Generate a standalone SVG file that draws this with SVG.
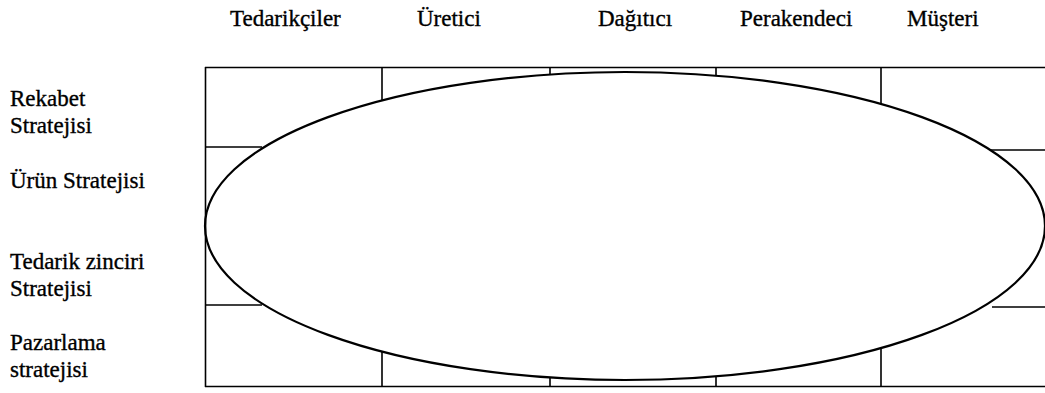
<svg xmlns="http://www.w3.org/2000/svg" width="1045" height="393" viewBox="0 0 1045 393">
<style>
.t{font-family:"Liberation Serif","Times New Roman",serif;font-size:23px;fill:#000;stroke:#000;stroke-width:0.35}
.g{stroke:#000;stroke-width:1.6;fill:none}
.e{stroke:#000;stroke-width:2.2;fill:none}
</style>
<rect width="1045" height="393" fill="#fff"/>
<g id="columns">
<text class="t" x="230" y="26">Tedarikçiler</text>
<text class="t" x="417" y="26">Üretici</text>
<text class="t" x="598" y="26">Dağıtıcı</text>
<text class="t" x="740" y="26">Perakendeci</text>
<text class="t" x="907" y="26">Müşteri</text>
</g>
<g id="rows">
<text class="t" x="10" y="106">Rekabet</text>
<text class="t" x="10" y="133">Stratejisi</text>
<text class="t" x="10" y="188">Ürün Stratejisi</text>
<text class="t" x="10" y="269">Tedarik zinciri</text>
<text class="t" x="10" y="296">Stratejisi</text>
<text class="t" x="10" y="350">Pazarlama</text>
<text class="t" x="10" y="377">stratejisi</text>
</g>
<g id="grid" class="g">
<path d="M205 67.5H1045M205 386.5H1045M205.5 67V387"/>
<path d="M205 147H262M205 305H262M990 150H1045M992 307H1045"/>
<path d="M382 67V101M382 351V387"/>
<path d="M550 67V75M550 377V387"/>
<path d="M716 67V76M716 376V387"/>
<path d="M881 67V104M881 348V387"/>
</g>
<g id="ellipse">
<ellipse class="e" cx="625" cy="226" rx="420" ry="154"/>
</g>
</svg>
